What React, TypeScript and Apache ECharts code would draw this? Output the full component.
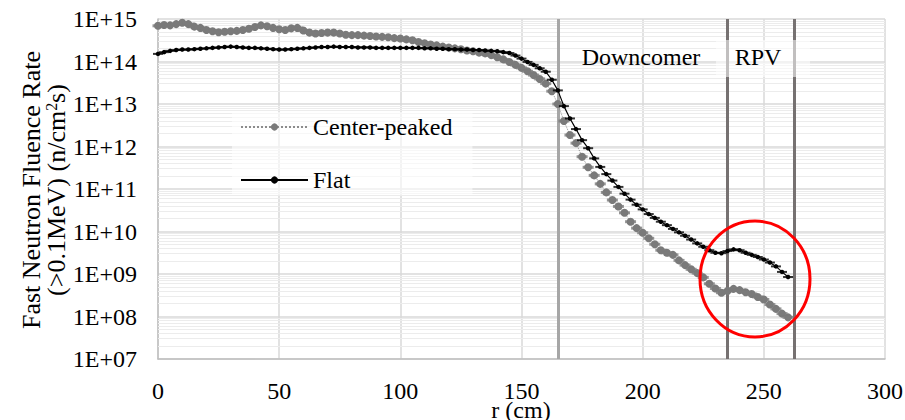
import React, { useEffect, useRef } from "react";
import * as echarts from "echarts";

// radial position (cm)
const radius = [
  0, 2.5, 5, 7.5, 10, 12.5, 15, 17.5, 20, 22.5, 25, 27.5, 30, 32.5, 35, 37.5, 40, 42.5, 45, 47.5,
  50, 52.5, 55, 57.5, 60, 62.5, 65, 67.5, 70, 72.5, 75, 77.5, 80, 82.5, 85, 87.5, 90, 92.5, 95, 97.5,
  100, 102.5, 105, 107.5, 110, 112.5, 115, 117.5, 120, 122.5, 125, 127.5, 130, 132.5, 135, 137.5, 140, 142.5, 145, 147.5,
  150, 152.5, 155, 157.5, 160, 162.5, 165, 167.5, 170, 172.5, 175, 177.5, 180, 182.5, 185, 187.5, 190, 192.5, 195, 197.5,
  200, 202.5, 205, 207.5, 210, 212.5, 215, 217.5, 220, 222.5, 225, 227.5, 230, 232.5, 235, 237.5, 240, 242.5, 245, 247.5,
  250, 252.5, 255, 257.5, 260,
];

// Center-peaked fast neutron fluence rate (n/cm2s)
const centerPeaked = [
  6.92e14, 7.24e14, 7.08e14, 7.59e14, 8.13e14, 7.59e14, 6.61e14, 6.17e14, 5.5e14, 5.13e14,
  4.9e14, 5.01e14, 5.13e14, 5.25e14, 5.5e14, 5.89e14, 6.46e14, 7.08e14, 6.76e14, 6.17e14,
  5.75e14, 5.5e14, 6.03e14, 6.17e14, 5.37e14, 4.79e14, 4.57e14, 4.68e14, 4.79e14, 4.79e14,
  4.57e14, 4.27e14, 4.17e14, 4.17e14, 4.07e14, 3.98e14, 3.89e14, 3.8e14, 3.72e14, 3.55e14,
  3.47e14, 3.31e14, 3.16e14, 2.88e14, 2.69e14, 2.51e14, 2.4e14, 2.24e14, 2.14e14, 2.04e14,
  1.95e14, 1.82e14, 1.74e14, 1.62e14, 1.55e14, 1.41e14, 1.26e14, 1.12e14, 9.77e13, 8.32e13,
  7.08e13, 5.89e13, 4.79e13, 3.89e13, 3.02e13, 2.0e13, 1.0e13, 3.98e12, 1.86e12, 1.2e12,
  5.75e11, 3.24e11, 2.09e11, 1.32e11, 8.32e10, 5.5e10, 3.89e10, 2.75e10, 1.7e10, 1.2e10,
  9.33e9, 6.92e9, 5.01e9, 3.63e9, 3.16e9, 2.82e9, 2.09e9, 1.62e9, 1.29e9, 1.05e9,
  8.32e8, 5.89e8, 4.57e8, 3.63e8, 3.98e8, 4.47e8, 4.17e8, 3.72e8, 3.39e8, 2.88e8,
  2.51e8, 1.91e8, 1.51e8, 1.17e8, 9.55e7,
];

// Flat fast neutron fluence rate (n/cm2s)
const flat = [
  1.51e14, 1.66e14, 1.78e14, 1.86e14, 1.91e14, 1.91e14, 1.95e14, 2.0e14, 2.04e14, 2.09e14,
  2.14e14, 2.19e14, 2.24e14, 2.19e14, 2.14e14, 2.09e14, 2.09e14, 2.04e14, 2.0e14, 1.95e14,
  1.91e14, 1.91e14, 1.95e14, 2.0e14, 2.04e14, 2.09e14, 2.14e14, 2.19e14, 2.19e14, 2.24e14,
  2.19e14, 2.19e14, 2.19e14, 2.14e14, 2.14e14, 2.14e14, 2.09e14, 2.09e14, 2.09e14, 2.09e14,
  2.09e14, 2.09e14, 2.09e14, 2.09e14, 2.04e14, 2.04e14, 2.0e14, 2.0e14, 1.95e14, 1.95e14,
  1.91e14, 1.91e14, 1.86e14, 1.86e14, 1.82e14, 1.78e14, 1.74e14, 1.66e14, 1.58e14, 1.38e14,
  1.17e14, 9.77e13, 8.32e13, 6.92e13, 5.75e13, 3.72e13, 2.09e13, 8.91e12, 4.57e12, 2.57e12,
  1.41e12, 9.12e11, 5.25e11, 3.31e11, 2.24e11, 1.58e11, 1.12e11, 7.76e10, 5.62e10, 4.27e10,
  3.31e10, 2.57e10, 2.09e10, 1.7e10, 1.41e10, 1.15e10, 9.55e9, 7.94e9, 6.46e9, 5.25e9,
  4.37e9, 3.63e9, 3.16e9, 3.09e9, 3.47e9, 3.8e9, 3.63e9, 3.16e9, 2.82e9, 2.51e9,
  2.19e9, 1.86e9, 1.51e9, 1.12e9, 8.51e8,
];

const seriesNames = ["Center-peaked", "Flat"];
const boundaryLines = [165, 235, 262.5];
const boundaryColors = ["#a6a6a6", "#767171", "#767171"];
const regionLabels = ["Downcomer", "RPV"];
const xAxisTitle = "r (cm)";
const yMin = 1e7;
const yMax = 1e15;
const xTicks = { min: 0, max: 300, interval: 50 };

const FONT = "'Liberation Serif', 'Times New Roman', serif";

export default function App() {
  const ref = useRef<HTMLDivElement>(null);
  useEffect(() => {
    document.body.style.margin = "0";
    if (!ref.current) return;
    const chart = echarts.init(ref.current, null, { renderer: "svg" });
    const cpData = radius.map((r, i) => [r, centerPeaked[i]]);
    const flatData = radius.map((r, i) => [r, flat[i]]);

    const minorLines: any[] = [];
    for (let e = 7; e < 15; e++) {
      for (let m = 2; m <= 9; m++) minorLines.push({ yAxis: m * Math.pow(10, e) });
    }

    const option: any = {
      animation: false,
      backgroundColor: "#ffffff",
      textStyle: { fontFamily: FONT },
      grid: { left: 158, right: 20, top: 19, bottom: 61, outerBoundsMode: "none", containLabel: false },
      xAxis: {
        type: "value",
        min: xTicks.min,
        max: xTicks.max,
        interval: xTicks.interval,
        axisLine: { show: true, lineStyle: { color: "#bfbfbf", width: 1.5 } },
        axisTick: { show: false },
        axisLabel: { fontFamily: FONT, fontSize: 24, color: "#000", margin: 20 },
        splitLine: { show: true, lineStyle: { color: "#d9d9d9", width: 1.5 } },
      },
      yAxis: {
        type: "log",
        logBase: 10,
        min: yMin,
        max: yMax,
        interval: 1,
        splitNumber: 8,
        axisLine: { show: true, lineStyle: { color: "#bfbfbf", width: 1.5 } },
        axisTick: { show: false },
        axisLabel: {
          fontFamily: FONT,
          fontSize: 24,
          color: "#000",
          margin: 21,
          formatter: (v: number) => {
            const e = Math.round(Math.log10(v));
            return "1E+" + (e < 10 ? "0" : "") + e;
          },
        },
        splitLine: { show: true, lineStyle: { color: "#d9d9d9", width: 1.5 } },
      },
      legend: {
        data: seriesNames,
        orient: "vertical",
        left: 232,
        top: 112,
        z: 10,
        padding: [3, 20, 3, 8],
        backgroundColor: "rgba(255,255,255,0.6)",
        itemWidth: 67,
        itemHeight: 9,
        itemGap: 29,
        textStyle: { fontFamily: FONT, fontSize: 24, color: "#000" },
      },
      series: [
        {
          name: "grid-minor",
          type: "line",
          data: [],
          z: 1,
          silent: true,
          markLine: {
            z: 1,
            silent: true,
            symbol: "none",
            label: { show: false },
            lineStyle: { color: "#ececec", width: 1, type: "solid" },
            data: minorLines,
          },
        },
        {
          name: "boundaries",
          type: "line",
          data: [],
          z: 2,
          silent: true,
          markLine: {
            z: 2,
            silent: true,
            symbol: "none",
            label: { show: false },
            data: boundaryLines.map((x, i) => ({
              xAxis: x,
              lineStyle: { color: boundaryColors[i], width: 3, type: "solid" },
            })),
          },
        },
        {
          name: seriesNames[0],
          type: "line",
          data: cpData,
          z: 3,
          symbol: "circle",
          symbolSize: 8,
          showSymbol: true,
          itemStyle: { color: "#7a7a7a" },
          lineStyle: { color: "#8c8c8c", width: 1, type: "dotted" },
        },
        {
          name: "cp-err",
          type: "scatter",
          data: cpData,
          z: 3,
          symbol: "rect",
          symbolSize: [11, 3],
          itemStyle: { color: "#7a7a7a" },
          silent: true,
        },
        {
          name: seriesNames[1],
          type: "line",
          data: flatData,
          z: 4,
          symbol: "circle",
          symbolSize: 4.5,
          showSymbol: true,
          itemStyle: { color: "#000000" },
          lineStyle: { color: "#000000", width: 1.2, type: "solid" },
        },
        {
          name: "flat-err",
          type: "scatter",
          data: flatData,
          z: 4,
          symbol: "rect",
          symbolSize: [10, 2],
          itemStyle: { color: "#000000" },
          silent: true,
        },
      ],
      graphic: [
        {
          type: "text",
          x: 44,
          y: 190,
          rotation: Math.PI / 2,
          style: {
            text: "{a|Fast Neutron Fluence Rate}\n{a|(>0.1MeV) (n/cm}{s|2}{a|s)}",
            align: "center",
            verticalAlign: "middle",
            fill: "#000",
            rich: {
              a: { fontFamily: FONT, fontSize: 26, lineHeight: 25, fill: "#000" },
              s: { fontFamily: FONT, fontSize: 16, lineHeight: 25, padding: [0, 0, 10, 0], fill: "#000" },
            },
          },
          z: 10,
        },
        {
          type: "text",
          x: 521,
          y: 410,
          style: {
            text: xAxisTitle,
            fontFamily: FONT,
            fontSize: 24,
            fill: "#000",
            align: "center",
            verticalAlign: "middle",
          },
          z: 10,
        },
        {
          type: "rect",
          shape: { x: 716, y: 40, width: 94, height: 37 },
          style: { fill: "rgba(255,255,255,0.55)" },
          z: 9,
        },
        {
          type: "text",
          x: 641,
          y: 57,
          style: {
            text: regionLabels[0],
            fontFamily: FONT,
            fontSize: 24,
            fill: "#000",
            align: "center",
            verticalAlign: "middle",
          },
          z: 10,
        },
        {
          type: "text",
          x: 758,
          y: 57,
          style: {
            text: regionLabels[1],
            fontFamily: FONT,
            fontSize: 24,
            fill: "#000",
            align: "center",
            verticalAlign: "middle",
          },
          z: 10,
        },
        {
          type: "ellipse",
          shape: { cx: 755, cy: 279, rx: 55, ry: 58 },
          style: { fill: "none", stroke: "#ff0000", lineWidth: 3 },
          z: 10,
        },
      ],
    };
    chart.setOption(option);
    return () => chart.dispose();
  }, []);
  return <div ref={ref} style={{ width: 905, height: 420 }} />;
}
